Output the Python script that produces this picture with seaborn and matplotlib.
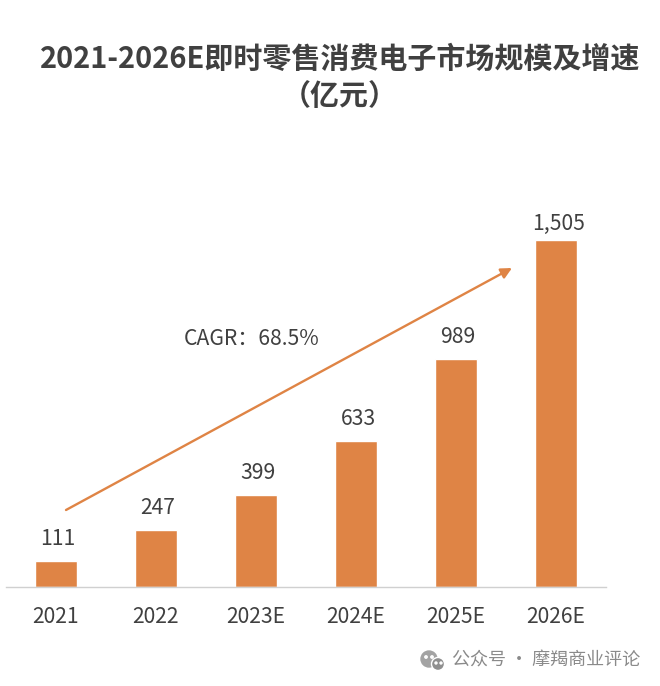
import matplotlib
matplotlib.use("Agg")
import matplotlib.pyplot as plt
import pandas as pd
import seaborn as sns

years = ['2021', '2022', '2023E', '2024E', '2025E', '2026E']
values = [111, 247, 399, 633, 989, 1505]
labels = ['111', '247', '399', '633', '989', '1,505']
BAR = '#df8445'
TXT = '#404040'

sns.set_theme(style='white')
plt.rcParams['font.family'] = ['Noto Sans CJK SC', 'DejaVu Sans']

fig = plt.figure(figsize=(6.6, 6.86), dpi=100)
ax = fig.add_axes([5.6 / 660, 1 - 587 / 686, 600 / 660, 347 / 686])
df = pd.DataFrame({'year': years, 'value': values})
sns.barplot(data=df, x='year', y='value', color=BAR, saturation=1, width=0.42, ax=ax)
ax.set_xlim(-0.5, 5.5)
ax.set_ylim(0, 1505)
ax.set_xlabel('')
ax.set_ylabel('')
ax.set_yticks([])
ax.tick_params(axis='x', length=0, labelsize=15.2, labelcolor=TXT, pad=13.5)
for s in ['top', 'left', 'right']:
    ax.spines[s].set_visible(False)
ax.spines['bottom'].set_color('#d0d0d0')
ax.spines['bottom'].set_linewidth(1)

for i, lab in enumerate(labels):
    # the tallest label sits closer to its bar
    off = 3.5 if i == 5 else 8
    ax.annotate(lab, (i, values[i]), xytext=(1.8, off), textcoords='offset points',
                ha='center', va='bottom', fontsize=15.2, color=TXT)

fig.text(340 / 660, 1 - 59 / 686, '2021-2026E即时零售消费电子市场规模及增速', ha='center', va='center',
         fontsize=20.9, fontweight='bold', color=TXT)
fig.text(340 / 660, 1 - 95.5 / 686, '（亿元）', ha='center', va='center',
         fontsize=20.9, fontweight='bold', color=TXT)

fig.text(252 / 660, 1 - 339 / 686, 'CAGR：68.5%', ha='center', va='center', fontsize=15.2, color=TXT)

ax.annotate('', xy=(512 / 660, 1 - 268 / 686), xytext=(66 / 660, 1 - 510 / 686),
            xycoords='figure fraction', textcoords='figure fraction',
            arrowprops=dict(arrowstyle='-|>', color=BAR, lw=1.7, mutation_scale=16, shrinkA=0, shrinkB=0))

fig.text(640 / 660, 1 - 661 / 686, '公众号 · 摩羯商业评论', ha='right', va='center', fontsize=13, color='#8a8a8a')

# wechat-like mark
ax2 = fig.add_axes([418 / 660, 1 - 672 / 686, 30 / 660, 22 / 686])
ax2.axis('off')
ax2.set_xlim(0, 30)
ax2.set_ylim(0, 22)
ax2.add_patch(plt.Circle((11, 13), 8, color='#a3a3a3'))
ax2.add_patch(plt.Circle((20, 8), 6.5, color='#8f8f8f', ec='white', lw=1))
ax2.add_patch(plt.Circle((8, 15), 1.2, color='white'))
ax2.add_patch(plt.Circle((14, 15), 1.2, color='white'))
ax2.add_patch(plt.Circle((18, 9), 1, color='white'))
ax2.add_patch(plt.Circle((23, 9), 1, color='white'))
ax2.set_aspect('equal')

fig.savefig('out.png', dpi=100)
